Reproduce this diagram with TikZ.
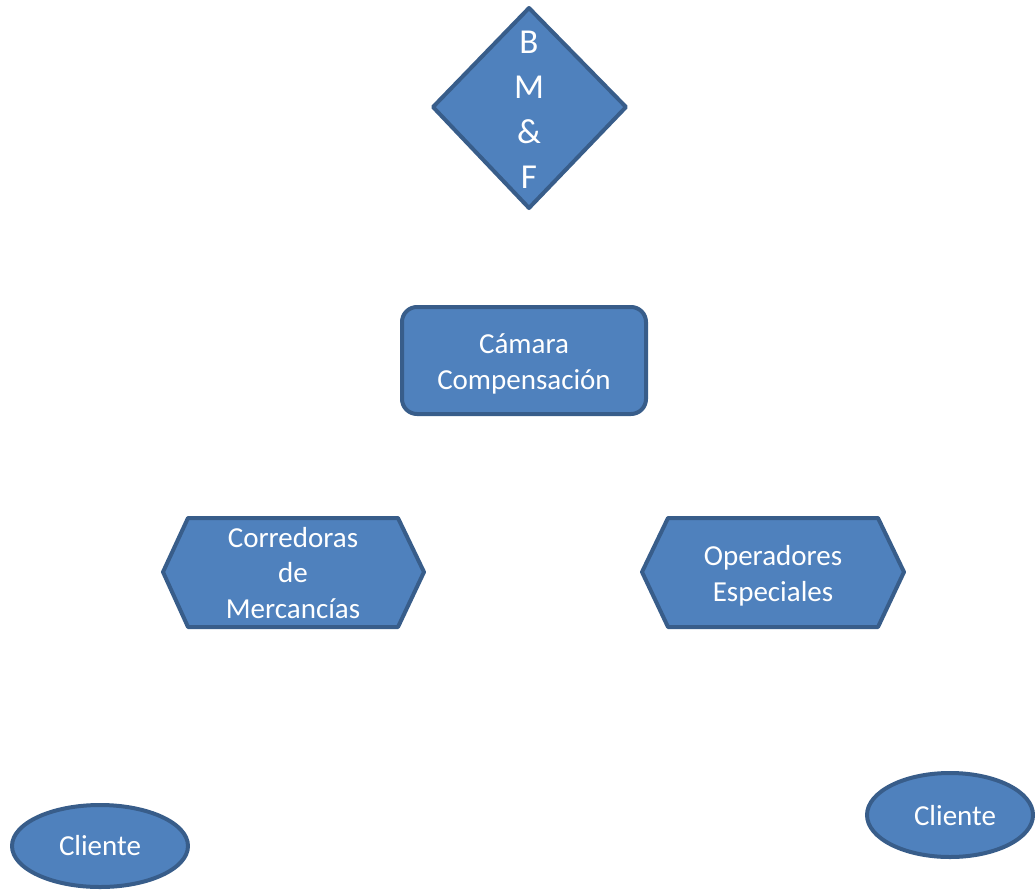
\documentclass[tikz,border=0pt]{standalone}
\usepackage{fontspec}
\setmainfont{Carlito}
\usetikzlibrary{shapes.geometric}
\definecolor{shapefill}{HTML}{4F81BD}
\definecolor{shapeline}{HTML}{385D8A}
\begin{document}
\begin{tikzpicture}[x=1pt,y=-1pt,
  shapestyle/.style={fill=shapefill,draw=shapeline,line width=4pt,line join=round},
  lbl/.style={text=white,align=center,font=\fontsize{29}{35.5}\selectfont,inner sep=0pt},
  biglbl/.style={text=white,align=center,font=\fontsize{35}{45}\selectfont,inner sep=0pt}]
\useasboundingbox (0,0) rectangle (1035,889);
% diamond
\draw[shapestyle] (529,8) -- (626,107) -- (529,208) -- (433,107) -- cycle;
\node[biglbl] (bmf) at (529,110) {B\\M\\\&\\F};
% rounded rectangle
\draw[shapestyle,rounded corners=15pt] (402,307) rectangle (646,414);
\node[lbl] (camara) at (524,364) {Cámara\\Compensación};
% hexagons
\draw[shapestyle] (163,572) -- (188,518) -- (398,518) -- (424,572) -- (398,627) -- (188,627) -- cycle;
\node[lbl] (corr) at (293,573) {Corredoras\\de\\Mercancías};
\draw[shapestyle] (642,572) -- (668,518) -- (878,518) -- (904,572) -- (878,627) -- (668,627) -- cycle;
\node[lbl] (oper) at (773,576) {Operadores\\Especiales};
% ellipses
\draw[shapestyle] (100,846) ellipse[x radius=88,y radius=41];
\node[lbl] (cli1) at (100,846) {Cliente};
\draw[shapestyle] (950,815) ellipse[x radius=83,y radius=42];
\node[lbl] (cli2) at (955,816) {Cliente};
\end{tikzpicture}
\end{document}
